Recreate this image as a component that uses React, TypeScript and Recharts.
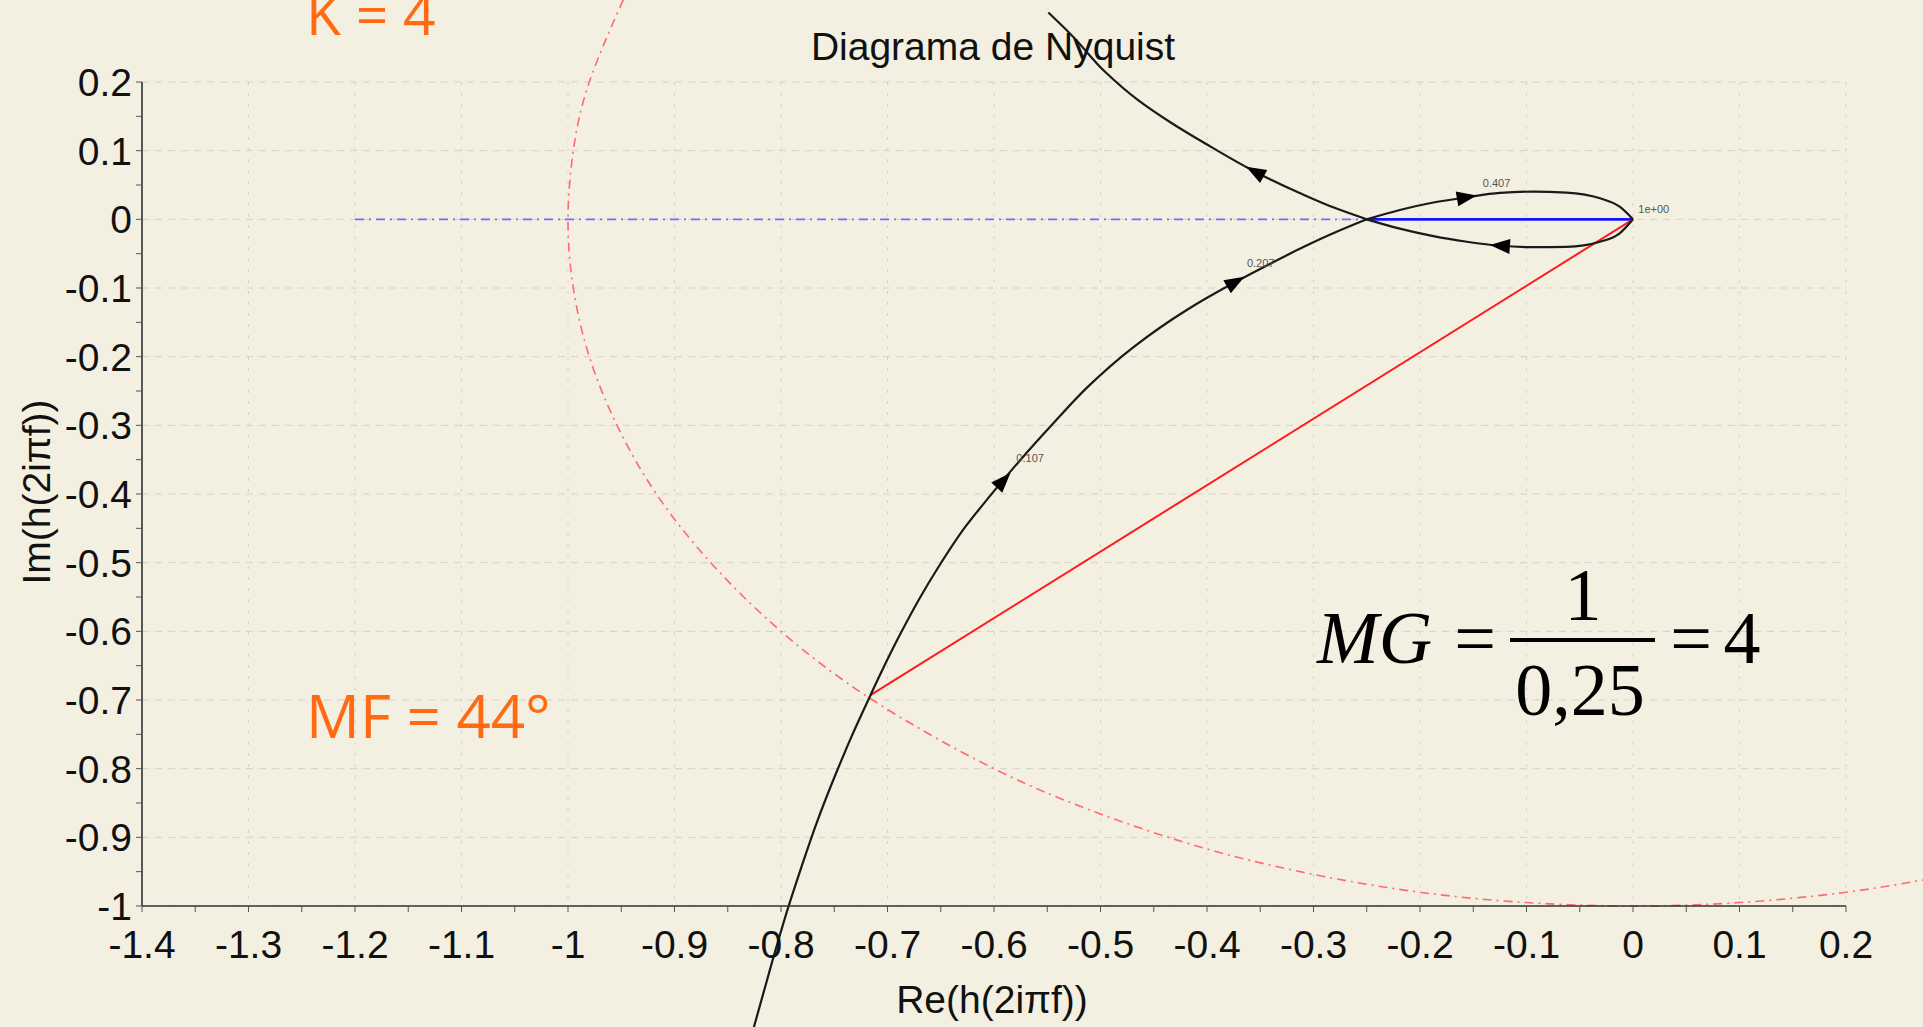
import React from 'react';
import { ComposedChart, Line, Scatter, XAxis, YAxis, CartesianGrid } from 'recharts';

type Pt = { x: number; y: number };

// Nyquist locus (Re, Im)
// branch coming up from the bottom edge to the crossing at -0.25
const lowerBranch: Pt[] = [
  { x: -0.827, y: -1.185 },
  { x: -0.809, y: -1.085 },
  { x: -0.793, y: -1.001 },
  { x: -0.781, y: -0.944 },
  { x: -0.767, y: -0.881 },
  { x: -0.746, y: -0.798 },
  { x: -0.734, y: -0.754 },
  { x: -0.716, y: -0.693 },
  { x: -0.7035, y: -0.652 },
  { x: -0.688, y: -0.604 },
  { x: -0.671, y: -0.555 },
  { x: -0.652, y: -0.506 },
  { x: -0.627, y: -0.448 },
  { x: -0.607, y: -0.409 },
  { x: -0.575, y: -0.35 },
  { x: -0.546, y: -0.3 },
  { x: -0.512, y: -0.244 },
  { x: -0.469, y: -0.186 },
  { x: -0.419, y: -0.132 },
  { x: -0.373, y: -0.091 },
  { x: -0.341, y: -0.065 },
  { x: -0.309, y: -0.04 },
  { x: -0.281, y: -0.02 },
  { x: -0.25, y: 0 },
];

// small loop between the crossing and the origin
const upperLobe: Pt[] = [
  { x: -0.25, y: 0 },
  { x: -0.219, y: 0.0136 },
  { x: -0.1875, y: 0.0245 },
  { x: -0.156, y: 0.0322 },
  { x: -0.125, y: 0.0385 },
  { x: -0.094, y: 0.0403 },
  { x: -0.0625, y: 0.0389 },
  { x: -0.031, y: 0.0306 },
  { x: -0.0125, y: 0.0184 },
  { x: 0, y: 0 },
];

const lowerLobe: Pt[] = [
  { x: -0.25, y: 0 },
  { x: -0.219, y: -0.0136 },
  { x: -0.1875, y: -0.0245 },
  { x: -0.156, y: -0.0326 },
  { x: -0.125, y: -0.0385 },
  { x: -0.094, y: -0.0405 },
  { x: -0.0625, y: -0.04 },
  { x: -0.031, y: -0.0326 },
  { x: -0.0125, y: -0.0204 },
  { x: 0, y: 0 },
];

// branch leaving the crossing towards the top
const upperBranch: Pt[] = [
  { x: -0.25, y: 0 },
  { x: -0.279, y: 0.016 },
  { x: -0.3125, y: 0.038 },
  { x: -0.355, y: 0.0694 },
  { x: -0.402, y: 0.1108 },
  { x: -0.433, y: 0.14 },
  { x: -0.465, y: 0.174 },
  { x: -0.496, y: 0.2153 },
  { x: -0.526, y: 0.2664 },
  { x: -0.549, y: 0.3012 },
];

const unitCircle: Pt[] = [
  { x: -0.948, y: 0.32 },
  { x: -0.98, y: 0.2 },
  { x: -0.995, y: 0.1 },
  { x: -1.0, y: 0 },
  { x: -0.995, y: -0.1 },
  { x: -0.98, y: -0.2 },
  { x: -0.954, y: -0.3 },
  { x: -0.917, y: -0.4 },
  { x: -0.866, y: -0.5 },
  { x: -0.8, y: -0.6 },
  { x: -0.714, y: -0.7 },
  { x: -0.6, y: -0.8 },
  { x: -0.5, y: -0.866 },
  { x: -0.4, y: -0.917 },
  { x: -0.3, y: -0.954 },
  { x: -0.2, y: -0.98 },
  { x: -0.1, y: -0.995 },
  { x: 0, y: -1.0 },
  { x: 0.1, y: -0.995 },
  { x: 0.2, y: -0.98 },
  { x: 0.28, y: -0.96 },
];

const realAxisDashed: Pt[] = [{ x: -1.2, y: 0 }, { x: -0.25, y: 0 }];
const gainSegment: Pt[] = [{ x: -0.25, y: 0 }, { x: 0, y: 0 }];
const phaseSegment: Pt[] = [{ x: 0, y: 0 }, { x: -0.716, y: -0.693 }];

// direction arrows: position and heading on screen (degrees)
const arrows = [
  { x: -0.355, y: 0.0694, angle: -151 },
  { x: -0.156, y: 0.0322, angle: -10 },
  { x: -0.125, y: -0.0385, angle: -176 },
  { x: -0.373, y: -0.091, angle: -30 },
  { x: -0.591, y: -0.38, angle: -47 },
];

const freqLabels = [
  { x: -0.141, y: 0.047, text: '0.407' },
  { x: 0.005, y: 0.009, text: '1e+00' },
  { x: -0.3625, y: -0.0695, text: '0.207' },
  { x: -0.579, y: -0.354, text: '0.107' },
];

const xTicks = [-1.4, -1.35, -1.3, -1.25, -1.2, -1.15, -1.1, -1.05, -1, -0.95, -0.9, -0.85, -0.8, -0.75, -0.7, -0.65, -0.6, -0.55, -0.5, -0.45, -0.4, -0.35, -0.3, -0.25, -0.2, -0.15, -0.1, -0.05, 0, 0.05, 0.1, 0.15, 0.2];
const yTicks = [-1, -0.95, -0.9, -0.85, -0.8, -0.75, -0.7, -0.65, -0.6, -0.55, -0.5, -0.45, -0.4, -0.35, -0.3, -0.25, -0.2, -0.15, -0.1, -0.05, 0, 0.05, 0.1, 0.15, 0.2];
const xGrid = [-1.4, -1.3, -1.2, -1.1, -1, -0.9, -0.8, -0.7, -0.6, -0.5, -0.4, -0.3, -0.2, -0.1, 0, 0.1, 0.2];
const yGrid = [-1, -0.9, -0.8, -0.7, -0.6, -0.5, -0.4, -0.3, -0.2, -0.1, 0, 0.1, 0.2];

const fmt = (v: number) => {
  const t = Math.round(v * 10);
  return Math.abs(t - v * 10) < 1e-6 ? String(t / 10) : '';
};

const ArrowHead = (props: any) => {
  const { cx, cy, payload } = props;
  return (
    <polygon
      points="10,0 -10,-7.5 -10,7.5"
      transform={`translate(${cx},${cy}) rotate(${payload.angle})`}
      fill="#000"
    />
  );
};

const FreqText = (props: any) => (
  <text x={props.cx} y={props.cy} fontSize={11} fill="#555" fontFamily="Arial, sans-serif">
    {props.payload.text}
  </text>
);

const tickStyle = { fontSize: 39, fill: '#111', fontFamily: 'Arial, sans-serif' };
const orange = '#FF6A13';
const curve = { stroke: '#1a1a1a', strokeWidth: 2.2, dot: false, activeDot: false, isAnimationActive: false } as const;

export default function App() {
  return (
    <div
      className="nyq"
      style={{ position: 'fixed', left: 0, top: 0, width: 1923, height: 1027, background: '#F3F0E1', overflow: 'hidden' }}
    >
      {/* curves run past the axes in the original, so the clip boxes are switched off */}
      <style>{'.nyq .recharts-surface * { clip-path: none !important; }'}</style>
      <div style={{ position: 'absolute', left: 0, top: 0 }}>
        <ComposedChart width={1923} height={1027} margin={{ top: 82, right: 77, bottom: 0, left: 0 }}>
          <CartesianGrid horizontal={false} verticalValues={xGrid} stroke="#d3d1c9" strokeDasharray="3 8" />
          <CartesianGrid vertical={false} horizontalValues={yGrid} stroke="#d3d1c9" strokeDasharray="7 6" />
          <XAxis
            type="number"
            dataKey="x"
            domain={[-1.4, 0.2]}
            allowDataOverflow
            ticks={xTicks}
            interval={0}
            tickFormatter={fmt}
            height={121}
            tickSize={6}
            tickMargin={18}
            axisLine={{ stroke: '#333', strokeWidth: 1.6 }}
            tickLine={{ stroke: '#555' }}
            tick={tickStyle}
          />
          <YAxis
            type="number"
            dataKey="y"
            domain={[-1, 0.2]}
            allowDataOverflow
            ticks={yTicks}
            interval={0}
            tickFormatter={fmt}
            width={142}
            tickSize={6}
            tickMargin={4}
            axisLine={{ stroke: '#333', strokeWidth: 1.6 }}
            tickLine={{ stroke: '#555' }}
            tick={tickStyle}
          />
          <Line data={unitCircle} dataKey="y" type="natural" stroke="#ff6b6b" strokeWidth={1.6} strokeDasharray="9 5 2 5" dot={false} activeDot={false} isAnimationActive={false} />
          <Line data={realAxisDashed} dataKey="y" type="linear" stroke="#6f6fff" strokeWidth={1.6} strokeDasharray="9 5 2 5" dot={false} activeDot={false} isAnimationActive={false} />
          <Line data={gainSegment} dataKey="y" type="linear" stroke="#1414ff" strokeWidth={2.6} dot={false} activeDot={false} isAnimationActive={false} />
          <Line data={phaseSegment} dataKey="y" type="linear" stroke="#ff1a1a" strokeWidth={2} dot={false} activeDot={false} isAnimationActive={false} />
          <Line data={lowerBranch} dataKey="y" type="monotoneY" {...curve} />
          <Line data={upperLobe} dataKey="y" type="monotoneX" {...curve} />
          <Line data={lowerLobe} dataKey="y" type="monotoneX" {...curve} />
          <Line data={upperBranch} dataKey="y" type="monotoneY" {...curve} />
          <Scatter data={arrows} shape={ArrowHead} isAnimationActive={false} />
          <Scatter data={freqLabels} shape={FreqText} isAnimationActive={false} />
        </ComposedChart>
      </div>
      <svg width={1923} height={1027} style={{ position: 'absolute', left: 0, top: 0, pointerEvents: 'none' }}>
        <text x={993} y={60} textAnchor="middle" fontSize={39} fill="#111" fontFamily="Arial, sans-serif">
          Diagrama de Nyquist
        </text>
        <text x={992} y={1013} textAnchor="middle" fontSize={39} fill="#111" fontFamily="Arial, sans-serif">
          Re(h(2iπf))
        </text>
        <text transform="translate(50,492) rotate(-90)" textAnchor="middle" fontSize={39} fill="#111" fontFamily="Arial, sans-serif">
          Im(h(2iπf))
        </text>
        <text x={306} y={35} fontSize={57} fill={orange} fontFamily="'Open Sans', sans-serif">
          K = 4
        </text>
        <text x={306} y={738} fontSize={60} fill={orange} fontFamily="'Open Sans', sans-serif">
          MF = 44°
        </text>
        <g fontFamily="'Liberation Serif', 'Times New Roman', serif" fontSize={74} fill="#000">
          <text x={1317} y={663} fontStyle="italic">MG</text>
          <text x={1475} y={663} textAnchor="middle">=</text>
          <line x1={1510} x2={1655} y1={640} y2={640} stroke="#000" strokeWidth={4} />
          <text x={1583} y={620} textAnchor="middle">1</text>
          <text x={1580} y={715} textAnchor="middle">0,25</text>
          <text x={1691} y={663} textAnchor="middle">=</text>
          <text x={1742} y={663} textAnchor="middle">4</text>
        </g>
      </svg>
    </div>
  );
}
